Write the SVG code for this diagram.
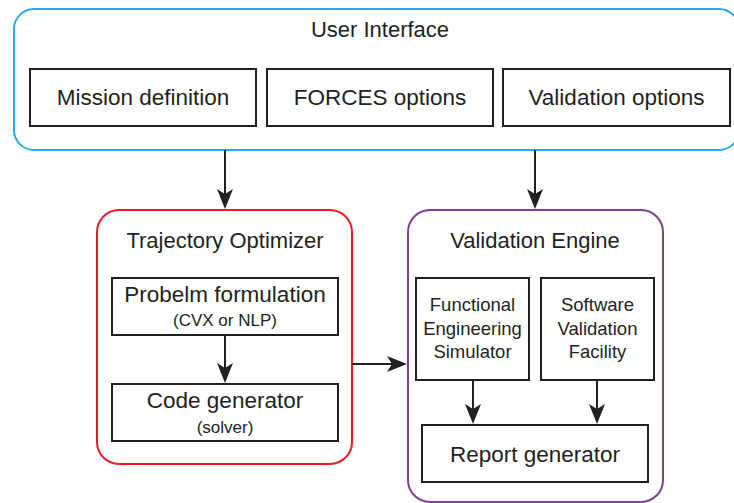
<svg xmlns="http://www.w3.org/2000/svg" width="734" height="503" viewBox="0 0 734 503">
  <style>
    text { font-family: "Liberation Sans", Arial, sans-serif; fill: #231f20; text-anchor: middle; }
    .box { fill: #ffffff; stroke: #231f20; stroke-width: 2; }
    .frame { fill: #ffffff; stroke-width: 2; }
    .lbl { font-size: 22.5px; }
    .ttl { font-size: 22px; }
    .sub { font-size: 17px; }
    .sm { font-size: 18.5px; }
    .wire { fill: none; stroke: #231f20; stroke-width: 2; marker-end: url(#head); }
  </style>
  <defs>
    <marker id="head" viewBox="0 0 20 16" refX="16" refY="8" markerWidth="20" markerHeight="16" markerUnits="userSpaceOnUse" orient="auto">
      <path d="M0,0 L20,8 L0,16 L5,8 Z" fill="#231f20"/>
    </marker>
  </defs>

  <rect width="734" height="503" fill="#ffffff"/>

  <g id="user-interface">
    <rect class="frame" x="14" y="9" width="725" height="141" rx="20" stroke="#29abe2"/>
    <text class="ttl" x="380" y="37">User Interface</text>
  </g>
  <g id="mission-definition">
    <rect class="box" x="30" y="69" width="226" height="57"/>
    <text class="lbl" x="143" y="105">Mission definition</text>
  </g>
  <g id="forces-options">
    <rect class="box" x="267" y="69" width="226" height="57"/>
    <text class="lbl" x="380" y="105">FORCES options</text>
  </g>
  <g id="validation-options">
    <rect class="box" x="503" y="69" width="227" height="57"/>
    <text class="lbl" x="616.5" y="105">Validation options</text>
  </g>

  <g id="trajectory-optimizer">
    <rect class="frame" x="97" y="210" width="255" height="254" rx="22" stroke="#ed1c24"/>
    <text class="ttl" x="225" y="248">Trajectory Optimizer</text>
  </g>
  <g id="problem-formulation">
    <rect class="box" x="112" y="278" width="226" height="57"/>
    <text class="lbl" x="225" y="302">Probelm formulation</text>
    <text class="sub" x="225" y="326">(CVX or NLP)</text>
  </g>
  <g id="code-generator">
    <rect class="box" x="112" y="384" width="226" height="57"/>
    <text class="lbl" x="225" y="408">Code generator</text>
    <text class="sub" x="225" y="433">(solver)</text>
  </g>

  <g id="validation-engine">
    <rect class="frame" x="408" y="210" width="255" height="292" rx="22" stroke="#7f3f98"/>
    <text class="ttl" x="535" y="248">Validation Engine</text>
  </g>
  <g id="functional-engineering-simulator">
    <rect class="box" x="416" y="278" width="113" height="102"/>
    <text class="sm" x="472.5" y="311">Functional</text>
    <text class="sm" x="472.5" y="335">Engineering</text>
    <text class="sm" x="472.5" y="358">Simulator</text>
  </g>
  <g id="software-validation-facility">
    <rect class="box" x="541" y="278" width="113" height="102"/>
    <text class="sm" x="597.5" y="311">Software</text>
    <text class="sm" x="597.5" y="335">Validation</text>
    <text class="sm" x="597.5" y="358">Facility</text>
  </g>
  <g id="report-generator">
    <rect class="box" x="422" y="425" width="226" height="57"/>
    <text class="lbl" x="535" y="462">Report generator</text>
  </g>

  <g id="connectors">
    <path class="wire" d="M225,150 V205"/>
    <path class="wire" d="M535,150 V205"/>
    <path class="wire" d="M225,335 V379"/>
    <path class="wire" d="M352,364 H403"/>
    <path class="wire" d="M473,380 V420"/>
    <path class="wire" d="M597,380 V420"/>
  </g>
</svg>
